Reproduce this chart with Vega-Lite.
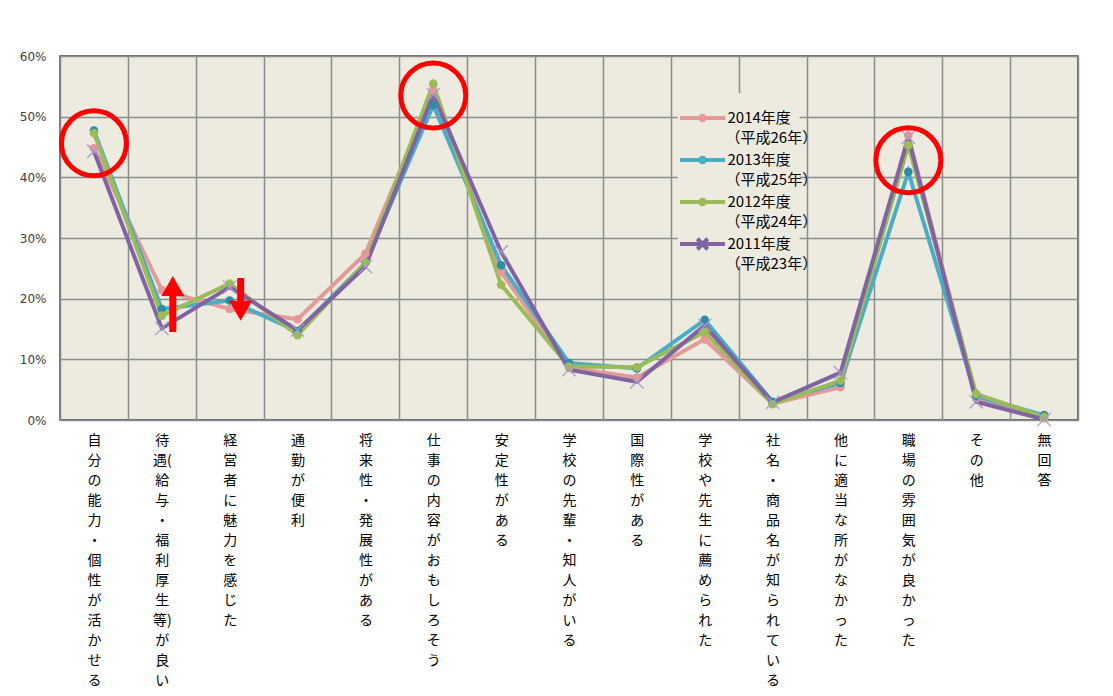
{
  "$schema": "https://vega.github.io/schema/vega-lite/v6.json",
  "width": 1018,
  "height": 364,
  "autosize": {"type": "none"},
  "padding": {"left": 60, "top": 56, "right": 35, "bottom": 276},
  "background": "white",
  "config": {
    "view": {"fill": "#EDEBE0", "stroke": "#404040", "strokeWidth": 1.5},
    "font": "Noto Sans CJK JP"
  },
  "datasets": {
    "main": [
      {"c": "自分の能力・個性が活かせる", "s": "2014年度", "j": "（平成26年）", "v": 44.8},
      {"c": "待遇(給与・福利厚生等)が良い", "s": "2014年度", "j": "（平成26年）", "v": 21.4},
      {"c": "経営者に魅力を感じた", "s": "2014年度", "j": "（平成26年）", "v": 18.3},
      {"c": "通勤が便利", "s": "2014年度", "j": "（平成26年）", "v": 16.6},
      {"c": "将来性・発展性がある", "s": "2014年度", "j": "（平成26年）", "v": 27.4},
      {"c": "仕事の内容がおもしろそう", "s": "2014年度", "j": "（平成26年）", "v": 54.2},
      {"c": "安定性がある", "s": "2014年度", "j": "（平成26年）", "v": 24.4},
      {"c": "学校の先輩・知人がいる", "s": "2014年度", "j": "（平成26年）", "v": 8.6},
      {"c": "国際性がある", "s": "2014年度", "j": "（平成26年）", "v": 7.0},
      {"c": "学校や先生に薦められた", "s": "2014年度", "j": "（平成26年）", "v": 13.3},
      {"c": "社名・商品名が知られている", "s": "2014年度", "j": "（平成26年）", "v": 2.7},
      {"c": "他に適当な所がなかった", "s": "2014年度", "j": "（平成26年）", "v": 5.4},
      {"c": "職場の雰囲気が良かった", "s": "2014年度", "j": "（平成26年）", "v": 46.9},
      {"c": "その他", "s": "2014年度", "j": "（平成26年）", "v": 3.6},
      {"c": "無回答", "s": "2014年度", "j": "（平成26年）", "v": 0.3},
      {"c": "自分の能力・個性が活かせる", "s": "2013年度", "j": "（平成25年）", "v": 47.7},
      {"c": "待遇(給与・福利厚生等)が良い", "s": "2013年度", "j": "（平成25年）", "v": 18.3},
      {"c": "経営者に魅力を感じた", "s": "2013年度", "j": "（平成25年）", "v": 19.7},
      {"c": "通勤が便利", "s": "2013年度", "j": "（平成25年）", "v": 14.6},
      {"c": "将来性・発展性がある", "s": "2013年度", "j": "（平成25年）", "v": 25.9},
      {"c": "仕事の内容がおもしろそう", "s": "2013年度", "j": "（平成25年）", "v": 51.9},
      {"c": "安定性がある", "s": "2013年度", "j": "（平成25年）", "v": 25.5},
      {"c": "学校の先輩・知人がいる", "s": "2013年度", "j": "（平成25年）", "v": 9.4},
      {"c": "国際性がある", "s": "2013年度", "j": "（平成25年）", "v": 8.5},
      {"c": "学校や先生に薦められた", "s": "2013年度", "j": "（平成25年）", "v": 16.5},
      {"c": "社名・商品名が知られている", "s": "2013年度", "j": "（平成25年）", "v": 3.0},
      {"c": "他に適当な所がなかった", "s": "2013年度", "j": "（平成25年）", "v": 6.1},
      {"c": "職場の雰囲気が良かった", "s": "2013年度", "j": "（平成25年）", "v": 40.9},
      {"c": "その他", "s": "2013年度", "j": "（平成25年）", "v": 3.9},
      {"c": "無回答", "s": "2013年度", "j": "（平成25年）", "v": 0.8},
      {"c": "自分の能力・個性が活かせる", "s": "2012年度", "j": "（平成24年）", "v": 47.3},
      {"c": "待遇(給与・福利厚生等)が良い", "s": "2012年度", "j": "（平成24年）", "v": 17.2},
      {"c": "経営者に魅力を感じた", "s": "2012年度", "j": "（平成24年）", "v": 22.5},
      {"c": "通勤が便利", "s": "2012年度", "j": "（平成24年）", "v": 14.0},
      {"c": "将来性・発展性がある", "s": "2012年度", "j": "（平成24年）", "v": 25.9},
      {"c": "仕事の内容がおもしろそう", "s": "2012年度", "j": "（平成24年）", "v": 55.4},
      {"c": "安定性がある", "s": "2012年度", "j": "（平成24年）", "v": 22.3},
      {"c": "学校の先輩・知人がいる", "s": "2012年度", "j": "（平成24年）", "v": 8.8},
      {"c": "国際性がある", "s": "2012年度", "j": "（平成24年）", "v": 8.7},
      {"c": "学校や先生に薦められた", "s": "2012年度", "j": "（平成24年）", "v": 14.5},
      {"c": "社名・商品名が知られている", "s": "2012年度", "j": "（平成24年）", "v": 2.6},
      {"c": "他に適当な所がなかった", "s": "2012年度", "j": "（平成24年）", "v": 6.5},
      {"c": "職場の雰囲気が良かった", "s": "2012年度", "j": "（平成24年）", "v": 45.3},
      {"c": "その他", "s": "2012年度", "j": "（平成24年）", "v": 4.3},
      {"c": "無回答", "s": "2012年度", "j": "（平成24年）", "v": 0.5},
      {"c": "自分の能力・個性が活かせる", "s": "2011年度", "j": "（平成23年）", "v": 44.3},
      {"c": "待遇(給与・福利厚生等)が良い", "s": "2011年度", "j": "（平成23年）", "v": 15.1},
      {"c": "経営者に魅力を感じた", "s": "2011年度", "j": "（平成23年）", "v": 21.9},
      {"c": "通勤が便利", "s": "2011年度", "j": "（平成23年）", "v": 14.8},
      {"c": "将来性・発展性がある", "s": "2011年度", "j": "（平成23年）", "v": 25.3},
      {"c": "仕事の内容がおもしろそう", "s": "2011年度", "j": "（平成23年）", "v": 53.6},
      {"c": "安定性がある", "s": "2011年度", "j": "（平成23年）", "v": 27.7},
      {"c": "学校の先輩・知人がいる", "s": "2011年度", "j": "（平成23年）", "v": 8.3},
      {"c": "国際性がある", "s": "2011年度", "j": "（平成23年）", "v": 6.3},
      {"c": "学校や先生に薦められた", "s": "2011年度", "j": "（平成23年）", "v": 15.6},
      {"c": "社名・商品名が知られている", "s": "2011年度", "j": "（平成23年）", "v": 2.9},
      {"c": "他に適当な所がなかった", "s": "2011年度", "j": "（平成23年）", "v": 7.8},
      {"c": "職場の雰囲気が良かった", "s": "2011年度", "j": "（平成23年）", "v": 46.6},
      {"c": "その他", "s": "2011年度", "j": "（平成23年）", "v": 3.0},
      {"c": "無回答", "s": "2011年度", "j": "（平成23年）", "v": 0.1}
    ],
    "circles": [
      {"c": "自分の能力・個性が活かせる", "v": 45.6},
      {"c": "仕事の内容がおもしろそう", "v": 53.5},
      {"c": "職場の雰囲気が良かった", "v": 42.8}
    ],
    "arrows": [
      {"c": "待遇(給与・福利厚生等)が良い", "a": 14.5, "b": 20.8, "h": 22.1, "sh": "triangle-up"},
      {"c": "経営者に魅力を感じた", "a": 23.4, "b": 19.6, "h": 18.0, "sh": "triangle-down"}
    ]
  },
  "encoding": {
    "x": {
      "field": "c",
      "type": "nominal",
      "scale": {
        "type": "band",
        "paddingInner": 0,
        "paddingOuter": 0,
        "domain": ["自分の能力・個性が活かせる", "待遇(給与・福利厚生等)が良い", "経営者に魅力を感じた", "通勤が便利", "将来性・発展性がある", "仕事の内容がおもしろそう", "安定性がある", "学校の先輩・知人がいる", "国際性がある", "学校や先生に薦められた", "社名・商品名が知られている", "他に適当な所がなかった", "職場の雰囲気が良かった", "その他", "無回答"]
      },
      "axis": {
        "title": null,
        "grid": true,
        "tickBand": "extent",
        "gridColor": "#8C8C8C",
        "gridWidth": 1.5,
        "domain": false,
        "ticks": false,
        "labelAngle": 0,
        "labelAlign": "center",
        "labelBaseline": "top",
        "labelFont": "Noto Sans CJK JP",
        "labelFontSize": 14,
        "labelLineHeight": 20,
        "labelPadding": 13,
        "labelColor": "#000000",
        "labelOverlap": false,
        "labelLimit": 0,
        "labelExpr": "split(replace(datum.label, regexp('(.)(?![()])', 'g'), '$1\\n'), '\\n')"
      }
    },
    "y": {
      "field": "v",
      "type": "quantitative",
      "scale": {"domain": [0, 60], "nice": false},
      "axis": {
        "title": null,
        "values": [0, 10, 20, 30, 40, 50, 60],
        "grid": true,
        "gridColor": "#8C8C8C",
        "gridWidth": 1.5,
        "domain": false,
        "ticks": false,
        "labelFont": "DejaVu Sans",
        "labelFontSize": 12,
        "labelColor": "#404040",
        "labelPadding": 14,
        "labelExpr": "datum.value + '%'"
      }
    }
  },
  "layer": [
    {
      "data": {"name": "main"},
      "mark": {"type": "line", "strokeWidth": 4},
      "encoding": {
        "color": {
          "field": "s",
          "type": "nominal",
          "scale": {
            "domain": ["2014年度", "2013年度", "2012年度", "2011年度"],
            "range": ["#E59A9A", "#4BACC6", "#9BBB59", "#8064A2"]
          }
        }
      }
    },
    {
      "data": {"name": "main"},
      "transform": [{"filter": "datum.s != '2011年度'"}],
      "mark": {"type": "point", "filled": true, "size": 75, "opacity": 1},
      "encoding": {
        "fill": {
          "field": "s",
          "type": "nominal",
          "scale": {
            "domain": ["2014年度", "2013年度", "2012年度"],
            "range": ["#E59A9A", "#2F8CA6", "#9BBB59"]
          },
          "legend": null
        }
      }
    },
    {
      "data": {"name": "main"},
      "transform": [{"filter": "datum.s == '2011年度'"}],
      "mark": {"type": "point", "filled": false, "shape": "M-1,-1L1,1M-1,1L1,-1", "size": 180, "stroke": "#A896C8", "strokeWidth": 1.2, "opacity": 1}
    },
    {
      "data": {"name": "main"},
      "mark": {"type": "point", "filled": false, "opacity": 0, "strokeWidth": 4},
      "encoding": {
        "color": {
          "field": "s",
          "type": "nominal",
          "legend": {
            "title": null,
            "orient": "none",
            "legendX": 617.5,
            "legendY": 37,
            "fillColor": "#EDEBE0",
            "padding": 8,
            "rowPadding": 14,
            "labelFont": "Noto Sans CJK JP",
            "labelFontSize": 15,
            "labelColor": "#000000",
            "labelOffset": 8,
            "labelLimit": 0,
            "symbolSize": 900,
            "symbolStrokeWidth": 4,
            "symbolOpacity": 1
          }
        },
        "shape": {
          "field": "s",
          "type": "nominal",
          "scale": {
            "domain": ["2014年度", "2013年度", "2012年度", "2011年度"],
            "range": [
              "M-1.5,0L1.5,0M0.15,0A0.15,0.15,0,1,1,-0.15,0A0.15,0.15,0,1,1,0.15,0Z",
              "M-1.5,0L1.5,0M0.15,0A0.15,0.15,0,1,1,-0.15,0A0.15,0.15,0,1,1,0.15,0Z",
              "M-1.5,0L1.5,0M0.15,0A0.15,0.15,0,1,1,-0.15,0A0.15,0.15,0,1,1,0.15,0Z",
              "M-1.5,0L1.5,0M-0.35,-0.35L0.35,0.35M-0.35,0.35L0.35,-0.35"
            ]
          },
          "legend": {
            "title": null,
            "orient": "none",
            "legendX": 617.5,
            "legendY": 37,
            "fillColor": "#EDEBE0",
            "padding": 8,
            "rowPadding": 14,
            "labelFont": "Noto Sans CJK JP",
            "labelFontSize": 15,
            "labelColor": "#000000",
            "labelOffset": 8,
            "labelLimit": 0,
            "symbolSize": 900,
            "symbolStrokeWidth": 4,
            "symbolOpacity": 1
          }
        },
        "strokeDash": {
          "field": "j",
          "type": "nominal",
          "scale": {
            "domain": ["（平成26年）", "（平成25年）", "（平成24年）", "（平成23年）"],
            "range": [[1, 0], [1, 0], [1, 0], [1, 0]]
          },
          "legend": {
            "title": null,
            "orient": "none",
            "legendX": 617.5,
            "legendY": 58,
            "padding": 8,
            "rowPadding": 11,
            "labelFont": "Noto Sans CJK JP",
            "labelFontSize": 15,
            "labelColor": "#000000",
            "labelOffset": 8,
            "labelLimit": 0,
            "symbolSize": 900,
            "symbolType": "circle",
            "symbolOpacity": 0
          }
        }
      }
    },
    {
      "data": {"name": "circles"},
      "mark": {"type": "point", "shape": "circle", "filled": false, "size": 4225, "stroke": "#FF0000", "strokeWidth": 5, "opacity": 1}
    },
    {
      "data": {"name": "arrows"},
      "mark": {"type": "rule", "color": "#FF0000", "strokeWidth": 7, "xOffset": 11},
      "encoding": {
        "y": {"field": "a", "type": "quantitative"},
        "y2": {"field": "b"}
      }
    },
    {
      "data": {"name": "arrows"},
      "mark": {"type": "point", "filled": true, "color": "#FF0000", "size": 529, "opacity": 1, "xOffset": 11},
      "encoding": {
        "y": {"field": "h", "type": "quantitative"},
        "shape": {"field": "sh", "type": "nominal", "scale": null, "legend": null}
      }
    }
  ]
}
